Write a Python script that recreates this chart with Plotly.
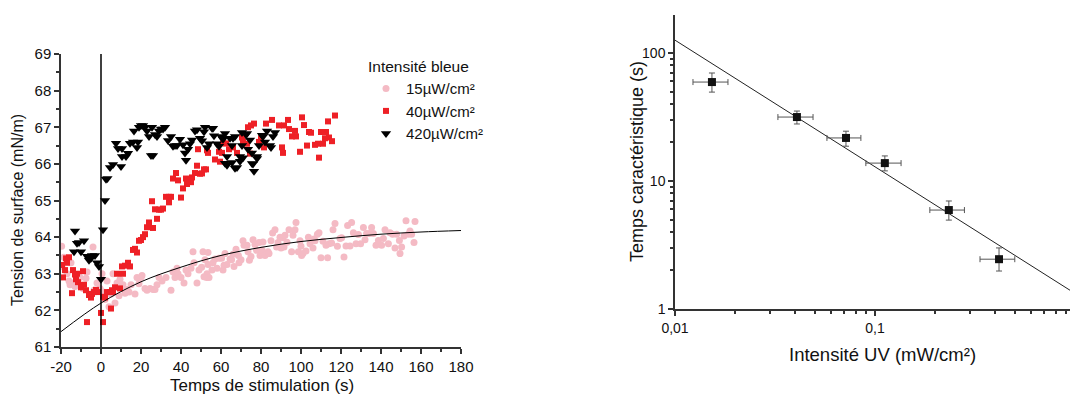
import plotly.graph_objects as go

# ---------------- Left chart data: surface tension vs time ----------------
t15 = [-19.7, -19.5, -18.5, -17, -16, -15.5, -15, -14, -13, -11.5, -10.5, -9, -7.5, -7, -4, -3.5, -2, -0.5, 0.5,
       1, 2, 3, 4, 5, 6, 7, 8, 9, 9.5, 10.5, 11, 12, 13, 14, 15, 17, 18, 19, 20, 20.5, 22, 23, 24.5, 26, 27, 28, 29,
       30.5, 32.5, 35, 36, 37, 38, 38.5, 40, 41.5, 42.5, 43.5, 45, 46, 46.5, 48, 49, 51, 53, 53.5,
       50.3, 52, 51.5, 52.8, 54, 53.5, 55.5, 56, 57, 58, 59, 60.3, 61, 61.5, 62, 63, 64.5, 65.3, 66, 66.5, 67.5,
       68.7, 69, 70, 71, 71.5, 73, 73.5, 74.2, 75, 76, 77, 77.8, 79, 79.5, 80.5, 81, 82, 83.5, 84, 85, 85.8, 87,
       87.8, 88.5, 89.5, 90, 91, 91.5, 92, 93, 94, 95.3, 96, 97, 97.5, 98.7, 99.5, 100, 100.3, 101, 102.5, 103.7,
       104.5, 106, 106.5, 107, 108.2, 109, 110, 111, 112.5, 113.3, 114, 115.3, 116, 117, 118.2, 119.5, 120.3,
       121.5, 122.5, 123.3, 124.5, 125.3, 126.2, 127.5, 128.7, 129.8, 131.2, 132, 132.8, 134.2, 135.3, 136.2,
       137.5, 138.7, 140.3, 141.2, 142, 143.7, 144.5, 145.8, 147, 147.8, 149.2, 149.5, 150.3, 151.5, 152.5,
       153.7, 154.5, 155.3, 156.5, 157]
y15 = [63.75, 63.2, 63.45, 63.0, 62.8, 62.7, 63.3, 62.75, 62.65, 62.95, 62.9, 62.6, 62.88, 63.05, 63.73, 62.55,
       62.75, 62.6, 63.0,
       62.5, 62.3, 62.8, 62.1, 62.45, 63.0, 62.2, 62.75, 62.4, 62.85, 62.65, 62.7, 62.47, 62.57, 62.5, 62.7,
       62.45, 62.9, 62.73, 62.9, 62.95, 62.6, 62.55, 62.6, 62.57, 62.57, 62.7, 62.9, 62.8, 62.9, 62.55, 63.05,
       62.9, 63.15, 63.0, 62.9, 62.75, 63.1, 63.0, 63.15, 63.6, 63.3, 62.75, 63.1, 63.6, 63.0, 63.25,
       63.18, 63.38, 62.92, 62.9, 62.9, 63.58, 63.1, 63.3, 63.4, 63.15, 63.42, 63.42, 63.1, 63.23, 63.55, 63.25,
       63.4, 63.38, 63.53, 63.2, 63.67, 63.5, 63.3, 63.38, 63.9, 63.78, 63.78, 63.6, 63.37, 63.47, 63.93, 63.8,
       63.64, 63.85, 63.5, 63.65, 63.87, 63.5, 63.6, 63.55, 63.9, 64.11, 64.2, 63.73, 63.85, 64.0, 63.7, 63.98,
       63.73, 64.05, 63.86, 64.2, 63.6, 64.05, 64.2, 64.4, 63.6, 63.9, 63.75, 63.5, 63.55, 63.62, 64.0, 63.82,
       63.7, 63.95, 63.9, 64.08, 64.12, 63.44, 63.89, 63.78, 63.44, 63.82, 63.84, 64.2, 64.37, 63.75, 63.96,
       63.98, 63.46, 63.76, 64.32, 63.76, 64.4, 64.12, 63.82, 64.07, 63.82, 64.26, 63.93, 64.1, 64.1, 64.26,
       64.1, 63.78, 63.91, 63.78, 63.96, 64.2, 63.82, 64.12, 64.08, 63.7, 64.08, 63.91, 63.55, 63.73, 64.03,
       64.45, 64.08, 64.17, 64.08, 63.85, 64.43]

t40 = [-19.5, -19, -18, -17.5, -17, -16, -14.5, -14, -13, -12.5, -12, -11.5, -10, -9, -8.5, -7.5, -7, -6, -5,
       -4.5, -3.5, -2.5, -1.5, 0, 1, 1, 2, 3, 4.5, 5, 5.5, 6, 7, 8, 9.5, 10.5, 11, 12, 13.5, 14.5, 16, 17, 18, 19,
       20, 21, 22, 23, 24, 25.5, 26, 27, 28, 29, 30, 31, 32.5, 34, 34, 35, 36, 37.5, 38.5, 40, 41, 42.5, 43, 45,
       45.5, 47, 48, 48.5, 49.5, 50.5, 51.5, 52.5, 53, 53.5, 57, 59, 59.5, 60.5, 61, 62.5, 64, 66, 68, 70.5, 71,
       73, 73.5, 74.5, 75, 76.5, 79, 80, 81.5, 82.5, 85.5, 89, 90.5, 91, 91.5, 93.5, 94, 95.5, 97, 97.5, 99.5,
       100.5, 101.5, 103, 104, 105, 107, 108.5, 109, 110, 111, 112, 112.5, 113.5, 114, 115.5, 117]
y40 = [63.24, 62.9, 63.1, 63.42, 63.3, 63.45, 62.47, 63.1, 62.98, 62.85, 63.0, 62.77, 62.63, 63.07, 62.7, 62.55,
       61.68, 62.42, 62.35, 62.45, 62.5, 62.56, 62.5, 61.93, 61.68, 62.37, 62.35, 62.5, 62.5, 62.05, 62.55, 62.5,
       62.63, 63.0, 62.6, 63.2, 63.0, 63.22, 63.3, 63.2, 63.65, 63.68, 63.58, 63.9, 63.92, 64.0, 64.08, 64.27,
       64.4, 64.98, 64.25, 64.76, 64.5, 64.75, 64.75, 64.78, 65.1, 65.1, 64.95, 65.1, 65.6, 65.75, 65.55, 65.08,
       65.33, 65.6, 65.45, 65.5, 65.63, 65.75, 65.95, 66.4, 65.73, 65.74, 65.85, 65.85, 66.37, 66.3, 66.12,
       66.33, 66.06, 66.3, 66.56, 66.56, 66.4, 66.45, 66.3, 66.72, 66.6, 66.55, 67.0, 66.28, 67.05, 67.1, 66.6,
       66.7, 66.45, 67.1, 67.2, 67.05, 66.45, 66.3, 67.05, 67.2, 66.95, 66.75, 66.9, 66.75, 66.33, 67.27, 67.06,
       66.5, 66.87, 66.85, 66.52, 66.55, 66.17, 66.87, 66.55, 66.7, 66.87, 67.16, 66.72, 66.62, 67.32]

t420 = [-13.5, -13, -12, -11, -10, -8.5, -7, -6, -5, -4.5, -3, -2, -1, 0, 1, 2,
        2.5, 3.2, 4.5, 6, 7.5, 8.5, 10, 10.5, 10.5, 12.5, 13.5, 14.5, 16, 16.5, 18, 18.5, 19, 20, 21, 22, 23, 24,
        25, 25.5, 26, 27, 28, 29, 30, 31, 32, 33.5, 35, 36, 37, 38, 39.5, 41, 42, 42.5, 43.5, 44.5, 45.5, 47, 48,
        49.5, 50.5, 51.5, 52, 53, 54, 55.5, 56, 56.5, 58, 59, 60, 61, 62, 62, 63, 63, 64.5, 65.5, 65.5, 66, 67,
        67, 68, 69.5, 69.5, 70.5, 70.5, 71, 72.5, 73, 73.5, 74.5, 75.5, 75.5, 76, 76.5, 78, 78, 79, 80.5, 81, 82,
        83, 84.5, 85, 86, 87]
y420 = [63.6, 64.17, 63.83, 63.85, 63.6, 63.9, 63.48, 63.37, 63.42, 63.5, 63.5, 63.3, 63.2, 62.85, 64.2, 65.0,
        65.58, 65.6, 65.9, 65.98, 66.56, 66.42, 65.93, 66.42, 66.2, 66.2, 66.29, 66.56, 66.6, 66.9, 66.45, 66.6,
        67.0, 67.05, 67.05, 67.0, 66.9, 66.75, 66.23, 67.0, 66.23, 66.8, 66.75, 66.9, 66.95, 66.95, 67.0, 66.64,
        66.75, 66.48, 66.5, 66.5, 66.67, 66.52, 66.3, 66.1, 66.4, 66.55, 66.65, 66.9, 66.93, 66.7, 66.63, 66.88,
        67.0, 66.45, 66.55, 66.97, 66.97, 66.77, 66.55, 66.48, 66.75, 66.67, 66.02, 66.83, 66.2, 65.96, 66.7,
        66.5, 66.04, 66.7, 66.75, 65.88, 65.9, 66.2, 66.07, 66.5, 66.86, 66.17, 66.8, 66.83, 66.4, 66.65, 66.3,
        66.01, 66.0, 65.8, 66.2, 66.15, 66.5, 66.78, 66.75, 66.6, 66.9, 66.5, 66.45, 66.75, 66.86]

# fitted saturation curve
t_fit = [-20, 0, 20, 40, 60, 80, 100, 120, 140, 160, 180]
y_fit = [61.42, 62.2, 62.78, 63.18, 63.5, 63.72, 63.88, 63.99, 64.08, 64.14, 64.18]

# ---------------- Right chart data: characteristic time vs UV intensity ----------------
I_uv = [0.0153, 0.0407, 0.0716, 0.112, 0.234, 0.417]
I_lo = [0.0123, 0.0327, 0.0575, 0.090, 0.188, 0.335]
I_hi = [0.0184, 0.049, 0.085, 0.135, 0.28, 0.50]
T_car = [59.3, 31.6, 21.7, 13.8, 5.93, 2.45]
T_lo = [49.5, 27.9, 18.7, 12.0, 4.95, 1.98]
T_hi = [69.8, 35.2, 24.5, 15.7, 6.98, 3.0]
I_line = [0.01, 0.945]
T_line = [126, 1.4]

left_x_ticks = [-20, 0, 20, 40, 60, 80, 100, 120, 140, 160, 180]
left_x_text = ["-20", "0", "20", "40", "60", "80", "100", "120", "140", "160", "180"]
left_y_ticks = [61, 62, 63, 64, 65, 66, 67, 68, 69]
right_x_tickvals = [0.01, 0.1]
right_x_ticktext = ["0,01", "0,1"]
right_y_tickvals = [1, 10, 100]

FONT = "Arial, Liberation Sans, sans-serif"
W, H = 1070, 398


def px(x):
    return x / W


def py(y):
    return 1 - y / H


fig = go.Figure()

fig.add_trace(go.Scatter(x=t15, y=y15, mode="markers", name="15µW/cm²",
                         marker=dict(symbol="circle", size=7, color="#F4BAC4"),
                         xaxis="x", yaxis="y"))
fig.add_trace(go.Scatter(x=t40, y=y40, mode="markers", name="40µW/cm²",
                         marker=dict(symbol="square", size=6, color="#EE2026"),
                         xaxis="x", yaxis="y"))
fig.add_trace(go.Scatter(x=t420, y=y420, mode="markers", name="420µW/cm²",
                         marker=dict(symbol="triangle-down", size=9, color="#000000"),
                         xaxis="x", yaxis="y"))
fig.add_trace(go.Scatter(x=t_fit, y=y_fit, mode="lines", line=dict(color="#000", width=1, shape="spline"),
                         showlegend=False, xaxis="x", yaxis="y"))

fig.add_trace(go.Scatter(x=I_line, y=T_line, mode="lines", line=dict(color="#222", width=1),
                         showlegend=False, xaxis="x2", yaxis="y2"))
fig.add_trace(go.Scatter(
    x=I_uv, y=T_car, mode="markers", showlegend=False, xaxis="x2", yaxis="y2",
    marker=dict(symbol="square", size=8, color="#111"),
    error_x=dict(type="data", symmetric=False,
                 array=[h - v for h, v in zip(I_hi, I_uv)],
                 arrayminus=[v - l for v, l in zip(I_uv, I_lo)],
                 color="#555", thickness=1, width=3),
    error_y=dict(type="data", symmetric=False,
                 array=[h - v for h, v in zip(T_hi, T_car)],
                 arrayminus=[v - l for v, l in zip(T_car, T_lo)],
                 color="#555", thickness=1, width=3),
))

fig.add_shape(type="line", xref="x", yref="y", x0=0, x1=0, y0=61, y1=69,
              line=dict(color="#000", width=1.5))


def axis_common(size):
    return dict(showline=True, linecolor="#333", linewidth=1.5, ticks="outside", tickcolor="#333",
                tickwidth=1.5, ticklen=5, showgrid=False, zeroline=False, automargin=False,
                tickfont=dict(family=FONT, size=size, color="#111"))


minor_style = dict(ticks="outside", ticklen=3, tickcolor="#333", tickwidth=1.5)

fig.update_layout(
    width=W, height=H,
    margin=dict(l=0, r=0, t=0, b=0, autoexpand=False),
    paper_bgcolor="white", plot_bgcolor="white",
    font=dict(family=FONT, color="#111"),
    xaxis=dict(domain=[px(61), px(461)], range=[-20, 180], tickmode="array", tickvals=left_x_ticks,
               ticktext=left_x_text, minor=dict(dtick=10, **minor_style),
               anchor="y", **axis_common(15)),
    yaxis=dict(domain=[py(347), py(54)], range=[61, 69], tickmode="array", tickvals=left_y_ticks,
               minor=dict(dtick=0.5, **minor_style),
               anchor="x", **axis_common(15)),
    xaxis2=dict(domain=[px(675), 1.0], type="log", range=[-2, -0.025], tickmode="array",
                tickvals=right_x_tickvals, ticktext=right_x_ticktext,
                minor=dict(tickmode="array",
                           tickvals=[0.02, 0.03, 0.04, 0.05, 0.06, 0.07, 0.08, 0.09,
                                     0.2, 0.3, 0.4, 0.5, 0.6, 0.7, 0.8, 0.9], **minor_style),
                anchor="y2", **axis_common(14)),
    yaxis2=dict(domain=[py(309), py(15)], type="log", range=[0, 2.297], tickmode="array",
                tickvals=right_y_tickvals, ticktext=["1", "10", "100"],
                minor=dict(tickmode="array",
                           tickvals=[2, 3, 4, 5, 6, 7, 8, 9, 20, 30, 40, 50, 60, 70, 80, 90, 200],
                           **minor_style),
                anchor="x2", **axis_common(14)),
    legend=dict(x=px(366), y=py(52), xanchor="left", yanchor="top",
                title=dict(text="Intensité bleue", font=dict(family=FONT, size=15.5, color="#111")),
                font=dict(family=FONT, size=15, color="#111"), bgcolor="rgba(0,0,0,0)",
                tracegroupgap=0),
    annotations=[
        dict(text="Temps de stimulation (s)", x=px(262), y=py(397), xref="paper", yref="paper",
             showarrow=False, font=dict(family=FONT, size=17, color="#111"), xanchor="center", yanchor="bottom"),
        dict(text="Tension de surface (mN/m)", x=px(18), y=py(210), xref="paper", yref="paper",
             showarrow=False, textangle=-90, font=dict(family=FONT, size=16, color="#111"),
             xanchor="center", yanchor="middle"),
        dict(text="Intensité UV (mW/cm²)", x=px(882), y=py(354), xref="paper", yref="paper",
             showarrow=False, font=dict(family=FONT, size=18.5, color="#111"), xanchor="center",
             yanchor="middle"),
        dict(text="Temps caractéristique (s)", x=px(637), y=py(162), xref="paper", yref="paper",
             showarrow=False, textangle=-90, font=dict(family=FONT, size=18, color="#111"),
             xanchor="center", yanchor="middle"),
    ],
)

# remove the default page margin so the figure fills the 1070x398 window exactly
fig.write_html("out.html",
               config={"displayModeBar": False},
               post_script="document.body.style.margin='0';document.body.style.overflow='hidden';")
